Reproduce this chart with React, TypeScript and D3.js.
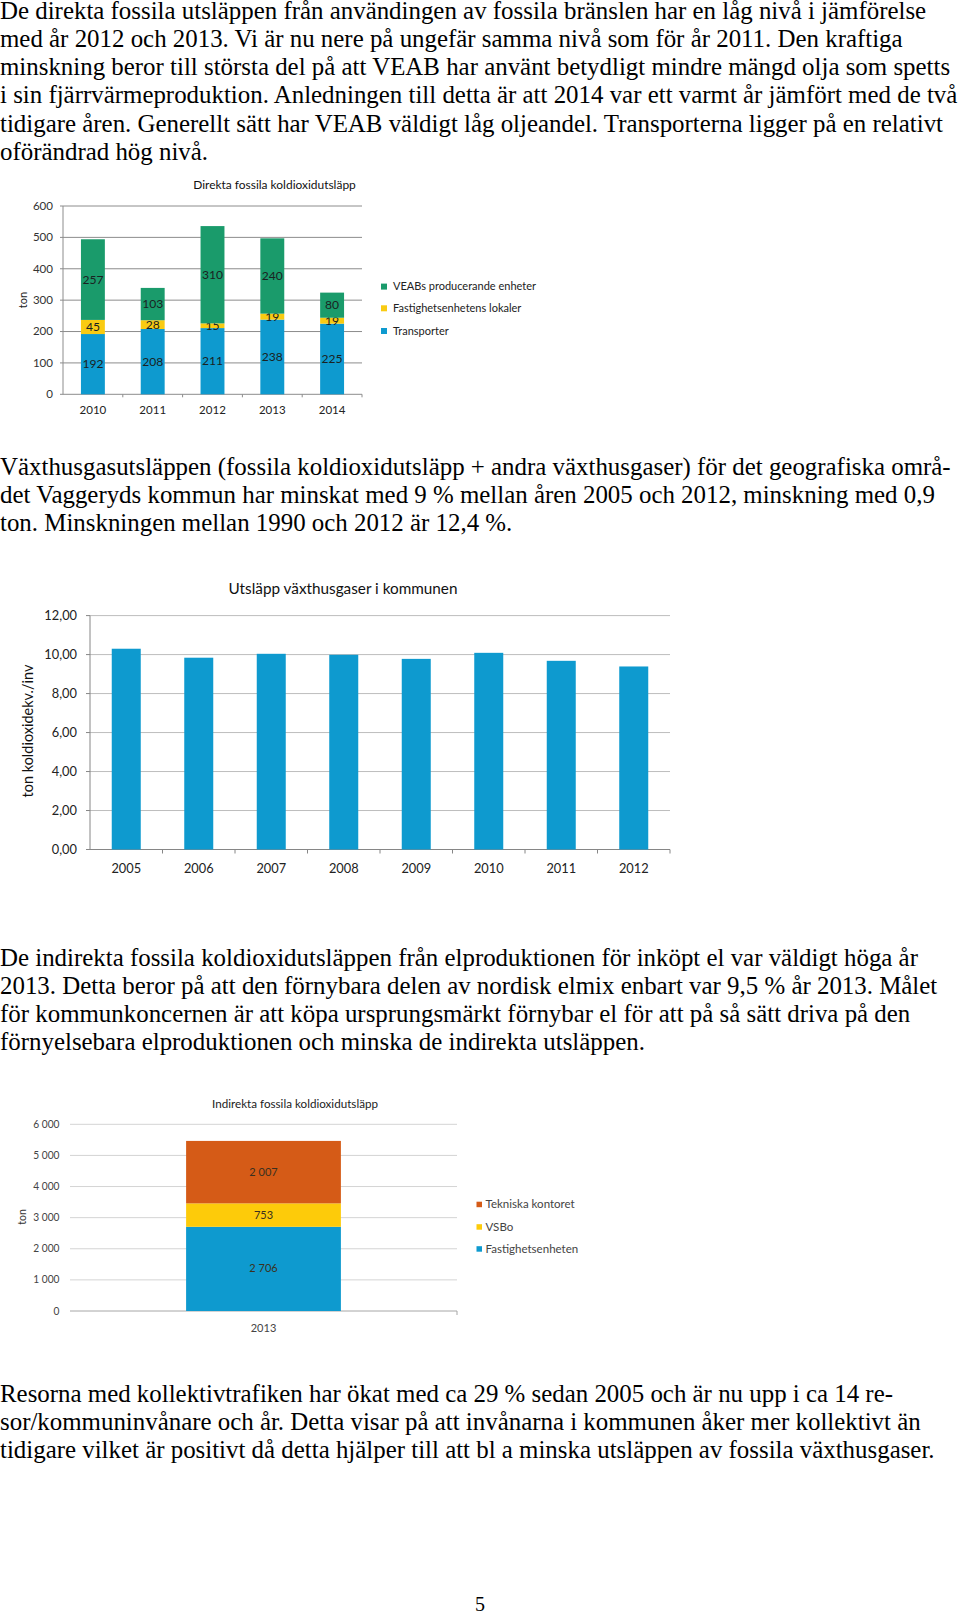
import React from "react";
import * as d3 from "d3";

// ---------- DATA ----------
const para1 = [
  "De direkta fossila utsläppen från användingen av fossila bränslen har en låg nivå i jämförelse",
  "med år 2012 och 2013. Vi är nu nere på ungefär samma nivå som för år 2011. Den kraftiga",
  "minskning beror till största del på att VEAB har använt betydligt mindre mängd olja som spetts",
  "i sin fjärrvärmeproduktion. Anledningen till detta är att 2014 var ett varmt år jämfört med de två",
  "tidigare åren. Generellt sätt har VEAB väldigt låg oljeandel. Transporterna ligger på en relativt",
  "oförändrad hög nivå.",
];
const para2 = [
  "Växthusgasutsläppen (fossila koldioxidutsläpp + andra växthusgaser) för det geografiska områ-",
  "det Vaggeryds kommun har minskat med 9 % mellan åren 2005 och 2012, minskning med 0,9",
  "ton. Minskningen mellan 1990 och 2012 är 12,4 %.",
];
const para3 = [
  "De indirekta fossila koldioxidutsläppen från elproduktionen för inköpt el var väldigt höga år",
  "2013. Detta beror på att den förnybara delen av nordisk elmix enbart var 9,5 % år 2013. Målet",
  "för kommunkoncernen är att köpa ursprungsmärkt förnybar el för att på så sätt driva på den",
  "förnyelsebara elproduktionen och minska de indirekta utsläppen.",
];
const para4 = [
  "Resorna med kollektivtrafiken har ökat med ca 29 % sedan 2005 och är nu upp i ca 14 re-",
  "sor/kommuninvånare och år. Detta visar på att invånarna i kommunen åker mer kollektivt än",
  "tidigare vilket är positivt då detta hjälper till att bl a minska utsläppen av fossila växthusgaser.",
];
const pageNumber = "5";

// Chart 1: Direkta fossila koldioxidutsläpp
const directTitle = "Direkta fossila koldioxidutsläpp";
const directYears = ["2010", "2011", "2012", "2013", "2014"];
const directTransporter = [192, 208, 211, 238, 225];
const directFastighet = [45, 28, 15, 19, 19];
const directVeab = [257, 103, 310, 240, 80];
const directSeriesNames = ["Transporter", "Fastighetsenhetens lokaler", "VEABs producerande enheter"];
const directTicks = [0, 100, 200, 300, 400, 500, 600];
const directYLabel = "ton";

// Chart 2: Utsläpp växthusgaser i kommunen
const ghgTitle = "Utsläpp växthusgaser i kommunen";
const ghgYears = ["2005", "2006", "2007", "2008", "2009", "2010", "2011", "2012"];
const ghgValues = [10.3, 9.84, 10.04, 9.99, 9.78, 10.09, 9.68, 9.39];
const ghgTicks = [0, 2, 4, 6, 8, 10, 12];
const ghgYLabel = "ton koldioxidekv./inv";

// Chart 3: Indirekta fossila koldioxidutsläpp
const indTitle = "Indirekta fossila koldioxidutsläpp";
const indYears = ["2013"];
const indFastighetsenheten = [2706];
const indVSBo = [753];
const indTekniska = [2007];
const indSeriesNames = ["Fastighetsenheten", "VSBo", "Tekniska kontoret"];
const indTicks = [0, 1000, 2000, 3000, 4000, 5000, 6000];
const indYLabel = "ton";

// ---------- STYLE ----------
const BLUE = "#0E9ACF";
const YELLOW = "#F9CB12";
const GREEN = "#1A9B6B";
const ORANGE = "#D55B17";
const YELLOW3 = "#FDCB0A";
const CF = "Lato, 'Open Sans', sans-serif";
const SERIF = "'Liberation Serif', 'Times New Roman', serif";

const sv = d3.formatLocale({ decimal: ",", thousands: " ", grouping: [3], currency: ["", " kr"] });
const fmt2 = sv.format(".2f");
const fmtInt = sv.format(",d");

function T({ x, y, sx = 1, anchor = "middle", size, fill = "#000", rotate = 0, weight = 400, children }: any) {
  const tr = `translate(${x},${y})${rotate ? ` rotate(${rotate})` : ""} scale(${sx},1)`;
  return (
    <text transform={tr} textAnchor={anchor} fontSize={size} fill={fill} fontFamily={CF} fontWeight={weight}>
      {children}
    </text>
  );
}

function Para({ lines, y0 }: { lines: string[]; y0: number }) {
  return (
    <g>
      {lines.map((l, i) => (
        <text key={i} x={0} y={y0 + i * 28.2} fontFamily={SERIF} fontSize={24.9} fill="#000">
          {l}
        </text>
      ))}
    </g>
  );
}

function DirectChart() {
  const left = 63, right = 362, top = 206, bottom = 394.3;
  const x = d3.scaleBand<string>().domain(directYears).range([left, right]).paddingInner(0.6).paddingOuter(0.3);
  const y = d3.scaleLinear().domain([0, 600]).range([bottom, top]);
  const series = [directTransporter, directFastighet, directVeab];
  const colors = [BLUE, YELLOW, GREEN];
  const stacked = d3.stack<number>().keys(["0", "1", "2"]).value((_d, k) => series[+k][_d])(directYears.map((_, i) => i) as any);
  const step = x.step();
  const sx = 1.05;
  const legY = [286.6, 308.3, 331];
  return (
    <g>
      <T x={274.5} y={188.5} size={11.5} sx={1.04} fill="#111">{directTitle}</T>
      {directTicks.map((t) => (
        <g key={t}>
          <line x1={left} x2={right} y1={y(t)} y2={y(t)} stroke="#8c8c8c" strokeWidth={1} />
          <line x1={left - 3} x2={left} y1={y(t)} y2={y(t)} stroke="#8c8c8c" />
          <T x={53} y={y(t) + 3.8} anchor="end" size={11} sx={sx} fill="#333">{String(t)}</T>
        </g>
      ))}
      <line x1={left} x2={left} y1={top} y2={bottom} stroke="#8c8c8c" />
      {directYears.map((yr, i) => (
        <line key={yr} x1={left + step * (i + 1)} x2={left + step * (i + 1)} y1={bottom} y2={bottom + 3} stroke="#8c8c8c" />
      ))}
      {stacked.map((layer, si) =>
        layer.map((d, i) => (
          <g key={`${si}-${i}`}>
            <rect x={x(directYears[i])} y={y(d[1])} width={x.bandwidth()} height={y(d[0]) - y(d[1])} fill={colors[si]} />
            <T x={(x(directYears[i]) as number) + x.bandwidth() / 2} y={y((d[0] + d[1]) / 2) + 4} size={11.5} sx={sx} fill="#1a2222">
              {String(series[si][i])}
            </T>
          </g>
        ))
      )}
      {directYears.map((yr) => (
        <T key={yr} x={(x(yr) as number) + x.bandwidth() / 2} y={413.5} size={11} sx={sx} fill="#222">{yr}</T>
      ))}
      <T x={26.5} y={300} rotate={-90} size={11} sx={1} fill="#222">{directYLabel}</T>
      {[2, 1, 0].map((si, k) => (
        <g key={si}>
          <rect x={381} y={legY[k] - 3} width={6} height={6} fill={colors[si]} />
          <T x={393} y={legY[k] + 3.8} anchor="start" size={11} sx={1} fill="#222">{directSeriesNames[si]}</T>
        </g>
      ))}
    </g>
  );
}

function GhgChart() {
  const left = 90, right = 670, top = 615.6, bottom = 849.5;
  const x = d3.scaleBand<string>().domain(ghgYears).range([left, right]).paddingInner(0.6).paddingOuter(0.3);
  const y = d3.scaleLinear().domain([0, 12]).range([bottom, top]);
  const step = x.step();
  const sx = 0.95;
  return (
    <g>
      <T x={343} y={594} size={15} sx={1.02} fill="#111">{ghgTitle}</T>
      {ghgTicks.map((t) => (
        <g key={t}>
          <line x1={left} x2={right} y1={y(t)} y2={y(t)} stroke={t === 0 ? "#868686" : "#bdbdbd"} strokeWidth={1} />
          <line x1={left - 4} x2={left} y1={y(t)} y2={y(t)} stroke="#868686" />
          <T x={77} y={y(t) + 4.8} anchor="end" size={13.5} sx={sx} fill="#222">{fmt2(t)}</T>
        </g>
      ))}
      <line x1={left} x2={left} y1={top} y2={bottom} stroke="#868686" />
      {ghgYears.map((yr, i) => (
        <line key={"t" + yr} x1={left + step * (i + 1)} x2={left + step * (i + 1)} y1={bottom} y2={bottom + 4} stroke="#868686" />
      ))}
      {ghgValues.map((v, i) => (
        <rect key={i} x={x(ghgYears[i])} y={y(v)} width={x.bandwidth()} height={y(0) - y(v)} fill={BLUE} />
      ))}
      {ghgYears.map((yr) => (
        <T key={yr} x={(x(yr) as number) + x.bandwidth() / 2} y={873} size={13.5} sx={sx} fill="#222">{yr}</T>
      ))}
      <T x={32.5} y={731} rotate={-90} size={14.5} sx={1} fill="#111">{ghgYLabel}</T>
    </g>
  );
}

function IndirectChart() {
  const left = 70, right = 457, top = 1124.3, bottom = 1311;
  const x = d3.scaleBand<string>().domain(indYears).range([left, right]).paddingInner(0.6).paddingOuter(0.3);
  const y = d3.scaleLinear().domain([0, 6000]).range([bottom, top]);
  const series = [indFastighetsenheten, indVSBo, indTekniska];
  const colors = [BLUE, YELLOW3, ORANGE];
  const stacked = d3.stack<number>().keys(["0", "1", "2"]).value((_d, k) => series[+k][_d])(indYears.map((_, i) => i) as any);
  const sx = 0.97;
  const legY = [1204.5, 1227, 1249];
  return (
    <g>
      <T x={295} y={1107.5} size={11} sx={1.06} fill="#222">{indTitle}</T>
      {indTicks.map((t) => (
        <g key={t}>
          <line x1={left} x2={right} y1={y(t)} y2={y(t)} stroke={t === 0 ? "#a6a6a6" : "#d4d4d4"} strokeWidth={1} />
          <T x={59.5} y={y(t) + 3.6} anchor="end" size={10.5} sx={sx} fill="#444">{fmtInt(t)}</T>
        </g>
      ))}
      <line x1={right} x2={right} y1={bottom} y2={bottom + 4} stroke="#a6a6a6" />
      {stacked.map((layer, si) =>
        layer.map((d, i) => (
          <g key={`${si}-${i}`}>
            <rect x={x(indYears[i])} y={y(d[1])} width={x.bandwidth()} height={y(d[0]) - y(d[1])} fill={colors[si]} />
            <T x={(x(indYears[i]) as number) + x.bandwidth() / 2} y={y((d[0] + d[1]) / 2) + 3.6} size={10.5} sx={1.05} fill="#3a3020">
              {fmtInt(series[si][i])}
            </T>
          </g>
        ))
      )}
      {indYears.map((yr) => (
        <T key={yr} x={(x(yr) as number) + x.bandwidth() / 2} y={1331.5} size={10.5} sx={1.05} fill="#444">{yr}</T>
      ))}
      <T x={26} y={1217} rotate={-90} size={10.5} sx={1} fill="#333">{indYLabel}</T>
      {[2, 1, 0].map((si, k) => (
        <g key={si}>
          <rect x={476.5} y={legY[k] - 2.8} width={5.5} height={5.5} fill={colors[si]} />
          <T x={485.5} y={legY[k] + 3.6} anchor="start" size={10.5} sx={1.1} fill="#444">{indSeriesNames[si]}</T>
        </g>
      ))}
    </g>
  );
}

export default function App() {
  return (
    <svg
      width={960}
      height={1616}
      viewBox="0 0 960 1616"
      style={{ position: "absolute", left: 0, top: 0, background: "#fff" }}
    >
      <rect x={0} y={0} width={960} height={1616} fill="#fff" />
      <Para lines={para1} y0={18.8} />
      <DirectChart />
      <Para lines={para2} y0={475} />
      <GhgChart />
      <Para lines={para3} y0={965.5} />
      <IndirectChart />
      <Para lines={para4} y0={1401.5} />
      <text x={480} y={1611} textAnchor="middle" fontFamily={SERIF} fontSize={20} fill="#000">{pageNumber}</text>
    </svg>
  );
}
